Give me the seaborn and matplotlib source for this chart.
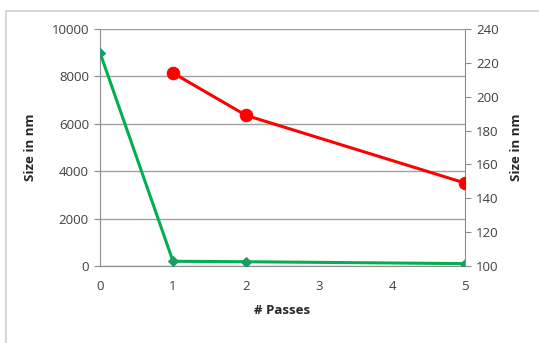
import matplotlib
matplotlib.use("Agg")
import matplotlib.pyplot as plt
import seaborn as sns
import pandas as pd
from matplotlib.lines import Line2D

# -- data
passes_green = [0, 1, 2, 5]
size_green = [9000, 200, 180, 100]
passes_red = [1, 2, 5]
size_red = [214, 189, 149]
x_ticks = [0, 1, 2, 3, 4, 5]
left_ticks = [0, 2000, 4000, 6000, 8000, 10000]
right_ticks = [100, 120, 140, 160, 180, 200, 220, 240]

green = pd.DataFrame({"passes": passes_green, "size": size_green})
red = pd.DataFrame({"passes": passes_red, "size": size_red})

sns.set_style("white")
plt.rcParams["font.family"] = ["Open Sans", "DejaVu Sans"]

fig = plt.figure(figsize=(5.39, 3.43), dpi=100)
ax = fig.add_axes([100 / 539, 77 / 343, 365 / 539, 237 / 343])
ax2 = ax.twinx()

# outer chart frame: only top and left edges are in view
x0, y0 = 6 / 539, (343 - 11) / 343
fig.lines.append(Line2D([x0, 1.0], [y0, y0], transform=fig.transFigure,
                        color="#d0d0d0", linewidth=1.2))
fig.lines.append(Line2D([x0, x0], [0.0, y0], transform=fig.transFigure,
                        color="#d0d0d0", linewidth=1.2))

sns.lineplot(data=green, x="passes", y="size", ax=ax, color="#00B050",
             linewidth=2.2, marker="D", markersize=5.5, markerfacecolor="#1a9c68",
             markeredgecolor="#1a9c68", zorder=3)
sns.lineplot(data=red, x="passes", y="size", ax=ax2, color="#ff0000",
             linewidth=2.2, marker="o", markersize=9, markerfacecolor="#ff0000",
             markeredgecolor="#ff0000", zorder=3)

ax.set_xlim(0, 5)
ax.set_ylim(0, 10000)
ax2.set_ylim(100, 240)
ax.set_xticks(x_ticks)
ax.set_yticks(left_ticks)
ax2.set_yticks(right_ticks)

ax.yaxis.grid(True, color="#a0a0a0", linewidth=1.0)
ax.set_axisbelow(True)

for a in (ax, ax2):
    for s in a.spines.values():
        s.set_visible(False)
ax.spines["left"].set_visible(True)
ax.spines["left"].set_color("#8c8c8c")
ax.spines["bottom"].set_visible(True)
ax.spines["bottom"].set_color("#8c8c8c")
ax2.spines["right"].set_visible(True)
ax2.spines["right"].set_color("#8c8c8c")

ax.tick_params(axis="y", direction="out", length=4, color="#8c8c8c",
               labelsize=9.5, labelcolor="#404040", pad=4)
ax.tick_params(axis="x", direction="out", length=4, color="#8c8c8c",
               labelsize=9.5, labelcolor="#404040", pad=6)
ax2.tick_params(axis="y", direction="out", length=4, color="#8c8c8c",
                labelsize=9.5, labelcolor="#404040", pad=4)

ax.set_xlabel("# Passes", fontsize=9.5, fontweight="bold", labelpad=8,
              color="#262626")
ax.set_ylabel("Size in nm", fontsize=9.5, fontweight="bold", labelpad=10,
              color="#262626")
ax2.set_ylabel("Size in nm", fontsize=9.5, fontweight="bold", labelpad=8,
               color="#262626")

plt.savefig("out.png", dpi=100)
